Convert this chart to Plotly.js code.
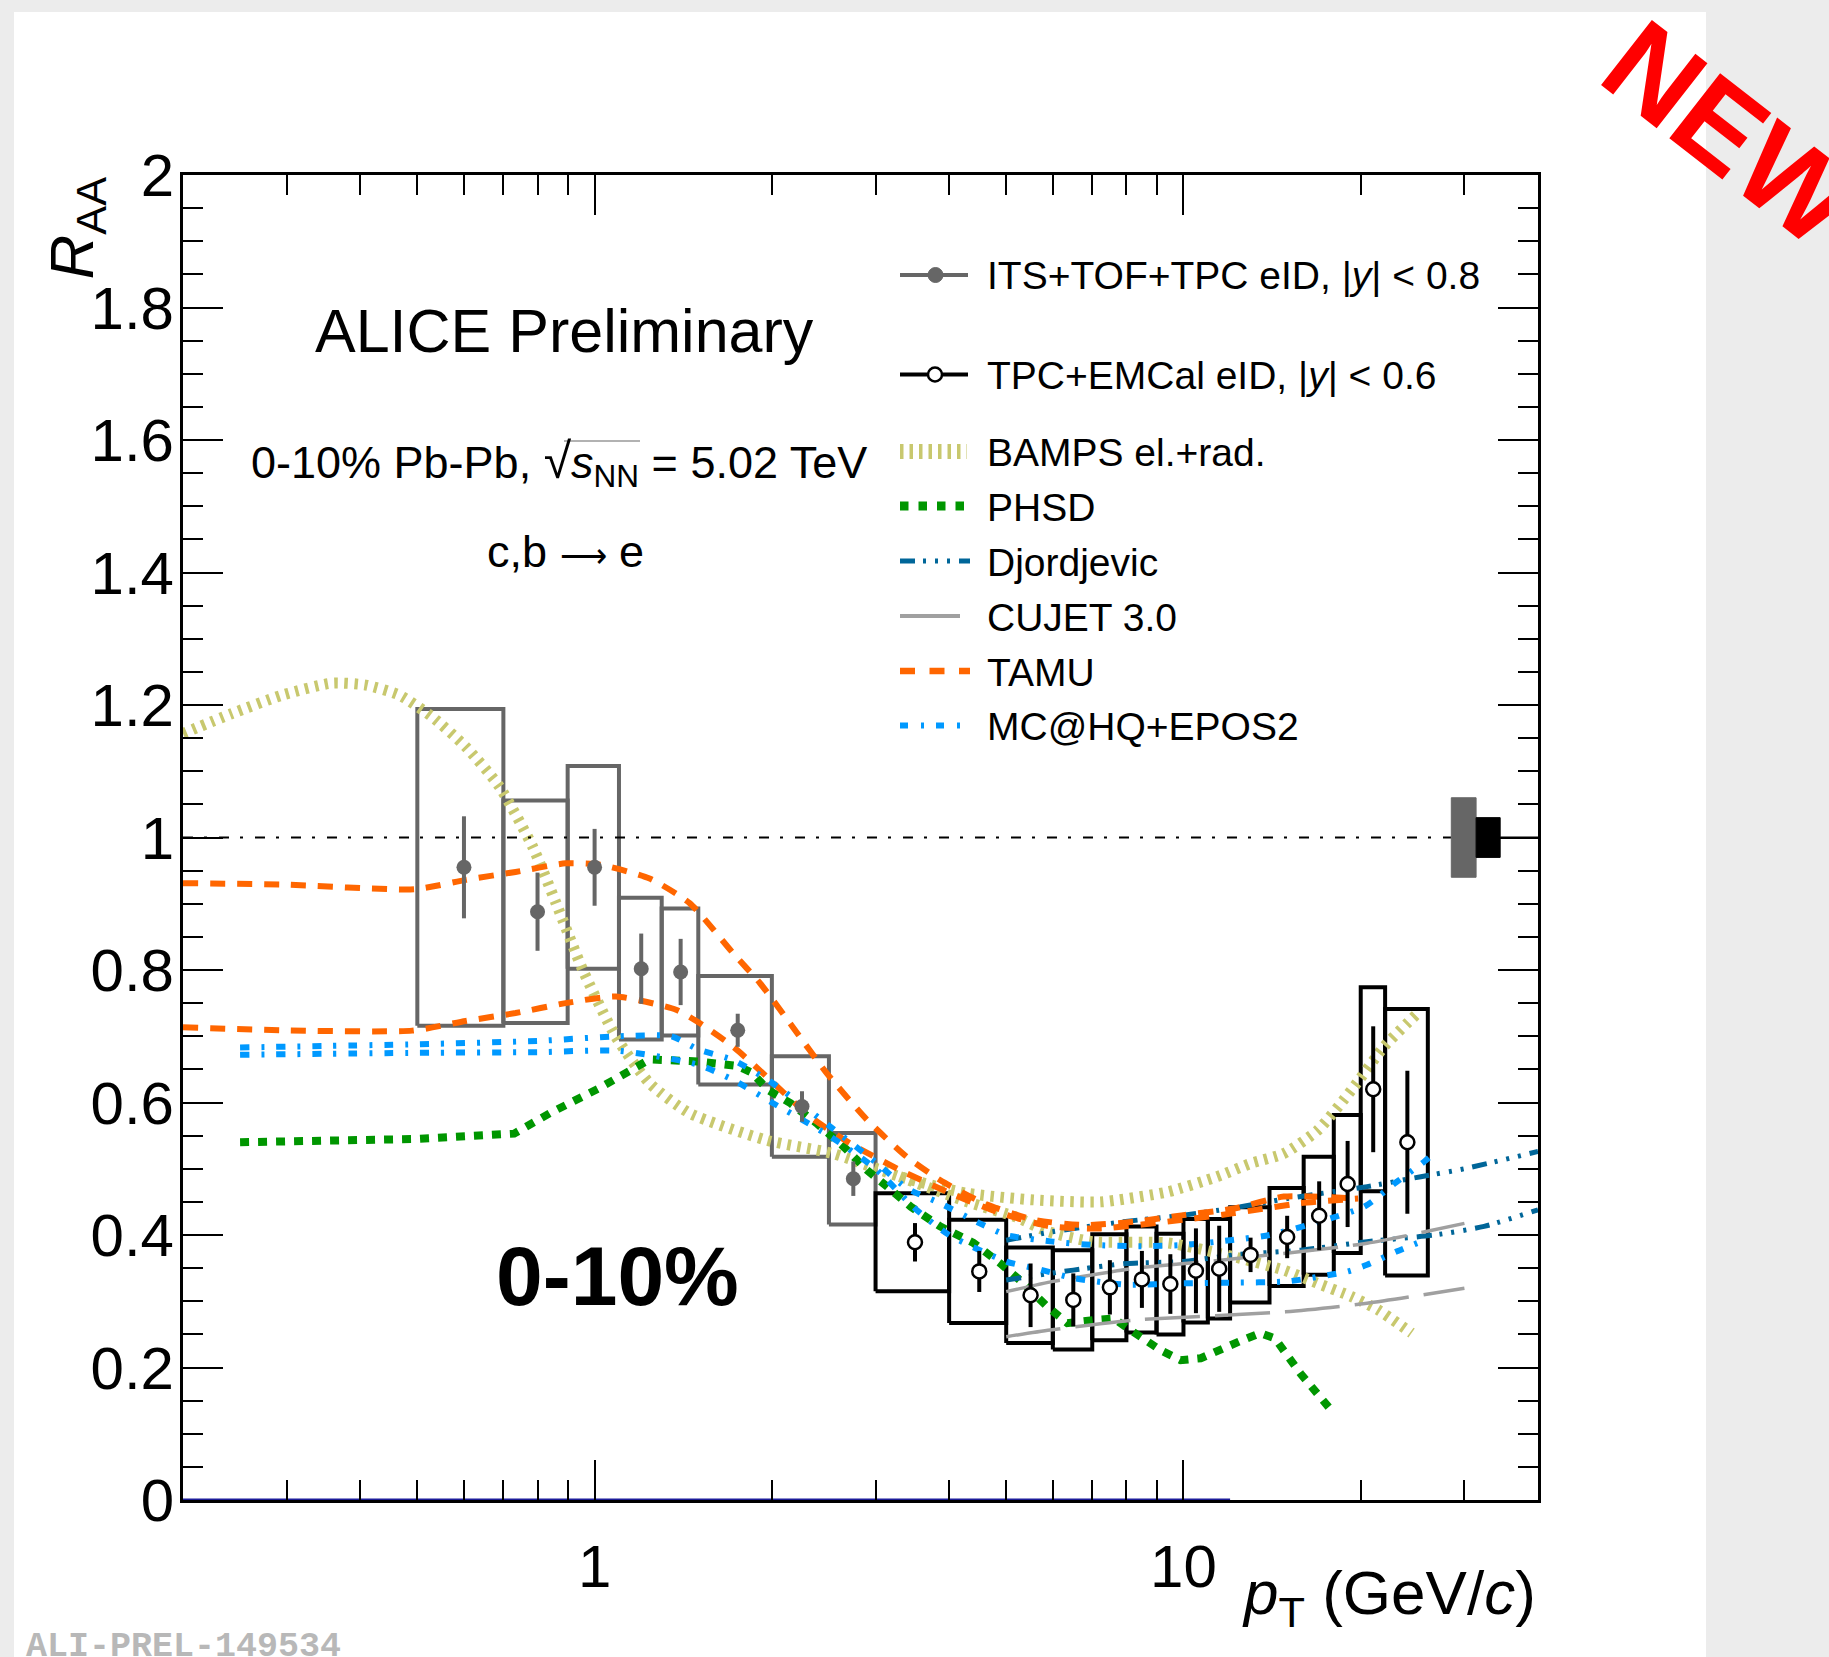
<!DOCTYPE html>
<html><head><meta charset="utf-8">
<script src="https://cdn.plot.ly/plotly-3.0.1.min.js"></script>
<style>html,body{margin:0;padding:0;background:#ececec;}#chart{width:1829px;height:1657px;}</style>
</head><body><div id="chart"></div>
<script>
// ---------------- DATA ----------------
// ITS+TOF+TPC eID, |y|<0.8
const ITS_LO  = [0.5, 0.7, 0.9, 1.1, 1.3, 1.5, 2.0, 2.5];
const ITS_HI  = [0.7, 0.9, 1.1, 1.3, 1.5, 2.0, 2.5, 3.0];
const ITS_PT  = [0.6, 0.8, 1.0, 1.2, 1.4, 1.75, 2.25, 2.75];
const ITS_R   = [0.955, 0.888, 0.955, 0.802, 0.797, 0.709, 0.594, 0.485];
const ITS_STAT= [0.077, 0.059, 0.058, 0.053, 0.050, 0.025, 0.023, 0.026];
const ITS_SYS = [0.239, 0.168, 0.153, 0.107, 0.096, 0.082, 0.076, 0.069];
// TPC+EMCal eID, |y|<0.6
const EMC_LO  = [3, 4, 5, 6, 7, 8, 9, 10, 11, 12, 14, 16, 18, 20, 22];
const EMC_HI  = [4, 5, 6, 7, 8, 9, 10, 11, 12, 14, 16, 18, 20, 22, 26];
const EMC_PT  = [3.5, 4.5, 5.5, 6.5, 7.5, 8.5, 9.5, 10.5, 11.5, 13, 15, 17, 19, 21, 24];
const EMC_R   = [0.389, 0.345, 0.309, 0.302, 0.321, 0.333, 0.326, 0.346, 0.349, 0.370, 0.397, 0.429, 0.477, 0.620, 0.540];
const EMC_STAT= [0.029, 0.031, 0.048, 0.040, 0.041, 0.043, 0.045, 0.064, 0.065, 0.026, 0.032, 0.052, 0.065, 0.095, 0.108];
const EMC_SYS = [0.074, 0.078, 0.072, 0.075, 0.080, 0.080, 0.076, 0.078, 0.075, 0.072, 0.074, 0.089, 0.104, 0.154, 0.201];
// normalisation uncertainties at R_AA = 1
const NORM_PT = [28.5, 31.4, 34.5];
const NORM_ERR = [0.06, 0.03];
// Models
const BAMPS_PT_UP = [0.2,0.242,0.295,0.358,0.409,0.466,0.53,0.604,0.689,0.785,0.86,0.955,1.087,1.24,1.45,1.96,2.54,3.3,4.29,5.57,7.23,9.39,11.4,13.0,14.8,16.9,19.3,21.9,25.0];
const BAMPS_UP    = [1.157,1.187,1.215,1.233,1.230,1.215,1.182,1.137,1.077,0.986,0.901,0.800,0.699,0.629,0.584,0.543,0.523,0.488,0.463,0.453,0.450,0.465,0.488,0.508,0.523,0.558,0.619,0.684,0.735];
const BAMPS_PT_LO = [3.3,4.3,5.2,5.9,7.0,9.4,12.2,14.8,16.9,19.3,21.4,24.4];
const BAMPS_LO    = [0.488,0.45,0.427,0.405,0.39,0.388,0.367,0.347,0.327,0.307,0.287,0.252];
const PHSD_PT = [0.25,0.5,0.73,0.84,1.02,1.24,1.5,1.75,1.85,1.97,2.15,2.38,2.65,2.90,3.14,3.44,3.86,4.40,4.89,5.35,5.87,6.35,7.14,7.62,8.05,9.15,9.89,10.7,12.5,13.5,14.3,15.8,17.8];
const PHSD_R  = [0.540,0.545,0.553,0.584,0.622,0.665,0.662,0.655,0.645,0.619,0.599,0.569,0.533,0.498,0.473,0.443,0.413,0.388,0.357,0.327,0.292,0.267,0.272,0.274,0.259,0.226,0.211,0.214,0.24,0.252,0.244,0.191,0.136];
const DJ_PT_UP = [5.0,6.0,7.9,10,12,15,20.5,25.3,30,40];
const DJ_UP    = [0.392,0.405,0.42,0.43,0.44,0.455,0.473,0.488,0.50,0.526];
const DJ_PT_LO = [5.0,6.5,8,10,12.2,15.8,20.5,26.7,32.4,40];
const DJ_LO    = [0.332,0.347,0.357,0.36,0.37,0.377,0.39,0.40,0.413,0.438];
const CUJET_PT_UP = [5.0,6.0,6.5,8.3,11.0,20.5,30];
const CUJET_UP    = [0.3145,0.33,0.335,0.35,0.36,0.3875,0.4176];
const CUJET_PT_LO = [5.0,5.94,8.3,14.9,20.5,30];
const CUJET_LO    = [0.2465,0.2566,0.2717,0.284,0.297,0.3195];
const TAMU_PT_UP = [0.2,0.295,0.496,0.604,0.734,0.893,1.02,1.24,1.45,1.72,1.91,2.17,2.48,2.90,3.39,3.86,4.58,5.57,6.77,8.24,10.0,12.2,14.8,19.8];
const TAMU_UP    = [0.931,0.929,0.922,0.936,0.948,0.961,0.959,0.938,0.901,0.825,0.78,0.714,0.644,0.574,0.518,0.483,0.448,0.423,0.415,0.42,0.43,0.44,0.458,0.455];
const TAMU_PT_LO = [0.2,0.295,0.49,0.604,0.734,0.893,1.087,1.375,1.51,1.72,1.96,2.32,2.72,3.30,4.02,4.89,5.94,7.23,10.0,12.2,15.8,19.8];
const TAMU_LO    = [0.7135,0.709,0.7085,0.723,0.735,0.750,0.760,0.740,0.7195,0.684,0.639,0.579,0.538,0.498,0.463,0.433,0.413,0.41,0.423,0.433,0.448,0.455];
const MCHQ_PT_UP = [0.25,0.5,0.8,1.1,1.35,1.5,1.72,2.0,2.5,3.0,3.4,3.86,4.5,5.0,6,7,8.5,10,12,14,17,20.3,23,25.4,27];
const MCHQ_UP    = [0.683,0.688,0.693,0.700,0.70,0.68,0.664,0.63,0.565,0.51,0.47,0.448,0.418,0.40,0.39,0.385,0.383,0.385,0.392,0.40,0.42,0.443,0.48,0.508,0.528];
const MCHQ_PT_LO = [0.25,0.5,0.8,1.1,1.5,1.72,2.0,2.5,3.0,3.5,4.0,5.0,5.7,6.5,8,10,12,15,19,20.5,23,25.3];
const MCHQ_LO    = [0.672,0.675,0.676,0.678,0.657,0.634,0.60,0.55,0.50,0.44,0.40,0.36,0.348,0.335,0.325,0.327,0.328,0.33,0.345,0.355,0.375,0.39];
// axis ticks
const X_MAJOR = [1, 10];
const X_MAJOR_TEXT = ['1', '10'];
const X_MINOR = [0.3,0.4,0.5,0.6,0.7,0.8,0.9,2,3,4,5,6,7,8,9,20,30];
const Y_MAJOR = [0,0.2,0.4,0.6,0.8,1,1.2,1.4,1.6,1.8,2];
const Y_MAJOR_TEXT = ['0','0.2','0.4','0.6','0.8','1','1.2','1.4','1.6','1.8','2'];
const X_RANGE = [0.2, 40];
const Y_RANGE = [0, 2];
const LEGEND_LABELS = ['ITS+TOF+TPC eID, |<i>y</i>| &lt; 0.8','TPC+EMCal eID, |<i>y</i>| &lt; 0.6','BAMPS el.+rad.','PHSD','Djordjevic','CUJET 3.0','TAMU','MC@HQ+EPOS2'];

// ---------------- STYLE / LAYOUT ----------------
const FONT = 'Liberation Sans, Arial, Helvetica, sans-serif';
const GRAY = '#666666';
const STY = {
  bamps: {color:'rgb(200,200,110)', width:11, dash:'3.5px,6.5px'},
  phsd:  {color:'rgb(0,150,0)', width:8, dash:'9px,9px'},
  dj:    {color:'rgb(0,102,153)', width:5, dash:'15px,8px,3px,9px,3px,9px,3px,9px'},
  cujet: {color:'#a0a0a0', width:3.5, dash:'55px,15px'},
  tamu:  {color:'rgb(255,102,0)', width:6, dash:'15px,12px'},
  mchq:  {color:'rgb(0,153,255)', width:6, dash:'9px,12px,3px,12px'}
};
const L=183, T=175, W=1355, H=1325;
const px = p => (p - L) / W;
const py = p => (T + H - p) / H;

function boxPath(lo, hi, y, s){
  const X=[], Y=[];
  for(let i=0;i<y.length;i++){
    X.push(lo[i],hi[i],hi[i],lo[i],lo[i],null);
    Y.push(y[i]-s[i],y[i]-s[i],y[i]+s[i],y[i]+s[i],y[i]-s[i],null);
  }
  return {X,Y};
}
const itsBox = boxPath(ITS_LO, ITS_HI, ITS_R, ITS_SYS);
const emcBox = boxPath(EMC_LO, EMC_HI, EMC_R, EMC_SYS);
const line = (x,y,s) => ({x, y, type:'scatter', mode:'lines', line:Object.assign({shape:'spline', smoothing:0.6}, s), showlegend:false, hoverinfo:'skip'});

const traces = [
  {x:itsBox.X, y:itsBox.Y, type:'scatter', mode:'lines', line:{color:GRAY, width:4}, showlegend:false, hoverinfo:'skip'},
  {x:emcBox.X, y:emcBox.Y, type:'scatter', mode:'lines', line:{color:'black', width:4}, showlegend:false, hoverinfo:'skip'},
  line(BAMPS_PT_UP, BAMPS_UP, STY.bamps),
  line(BAMPS_PT_LO, BAMPS_LO, STY.bamps),
  line(PHSD_PT, PHSD_R, Object.assign({}, STY.phsd, {shape:'linear'})),
  line(DJ_PT_UP, DJ_UP, STY.dj),
  line(DJ_PT_LO, DJ_LO, STY.dj),
  line(CUJET_PT_UP, CUJET_UP, STY.cujet),
  line(CUJET_PT_LO, CUJET_LO, STY.cujet),
  line(TAMU_PT_UP, TAMU_UP, STY.tamu),
  line(TAMU_PT_LO, TAMU_LO, STY.tamu),
  line(MCHQ_PT_UP, MCHQ_UP, STY.mchq),
  line(MCHQ_PT_LO, MCHQ_LO, STY.mchq),
  // unity reference line
  {x:[X_RANGE[0], NORM_PT[0]], y:[1,1], type:'scatter', mode:'lines', line:{color:'black', width:2, dash:'10px,11px,3px,12px'}, showlegend:false, hoverinfo:'skip'},
  {x:[NORM_PT[2], X_RANGE[1]], y:[1,1], type:'scatter', mode:'lines', line:{color:'black', width:2}, showlegend:false, hoverinfo:'skip'},
  // normalisation boxes
  {x:[NORM_PT[0],NORM_PT[1],NORM_PT[1],NORM_PT[0],NORM_PT[0]], y:[1-NORM_ERR[0],1-NORM_ERR[0],1+NORM_ERR[0],1+NORM_ERR[0],1-NORM_ERR[0]], type:'scatter', mode:'lines', fill:'toself', fillcolor:GRAY, line:{color:GRAY, width:1}, showlegend:false, hoverinfo:'skip'},
  {x:[NORM_PT[1],NORM_PT[2],NORM_PT[2],NORM_PT[1],NORM_PT[1]], y:[1-NORM_ERR[1],1-NORM_ERR[1],1+NORM_ERR[1],1+NORM_ERR[1],1-NORM_ERR[1]], type:'scatter', mode:'lines', fill:'toself', fillcolor:'black', line:{color:'black', width:1}, showlegend:false, hoverinfo:'skip'},
  // blue line along zero
  {x:[X_RANGE[0], 12], y:[0,0], type:'scatter', mode:'lines', line:{color:'#1c1c9a', width:3}, cliponaxis:false, showlegend:false, hoverinfo:'skip'},
  // data points
  {x:ITS_PT, y:ITS_R, type:'scatter', mode:'markers', marker:{size:15, color:GRAY}, error_y:{type:'data', array:ITS_STAT, visible:true, thickness:4, width:0, color:GRAY}, showlegend:false},
  {x:EMC_PT, y:EMC_R, type:'scatter', mode:'markers', marker:{size:14, color:'white', line:{color:'black', width:2.5}}, error_y:{type:'data', array:EMC_STAT, visible:true, thickness:4, width:0, color:'black'}, showlegend:false}
];

// manual legend
const legY = [275, 374.5, 451.5, 506, 561, 616, 671, 725.6];
const shapes = [
  {type:'rect', xref:'paper', yref:'paper', x0:px(14), x1:px(1706), y0:py(1700), y1:py(12), fillcolor:'white', line:{width:0}, layer:'below'},
  {type:'line', xref:'paper', yref:'paper', x0:px(900), x1:px(968), y0:py(legY[0]), y1:py(legY[0]), line:{color:GRAY, width:4}},
  {type:'circle', xref:'paper', yref:'paper', x0:px(928), x1:px(943), y0:py(legY[0]+7.5), y1:py(legY[0]-7.5), fillcolor:GRAY, line:{color:GRAY, width:1}},
  {type:'line', xref:'paper', yref:'paper', x0:px(900), x1:px(968), y0:py(legY[1]), y1:py(legY[1]), line:{color:'black', width:4}},
  {type:'circle', xref:'paper', yref:'paper', x0:px(928), x1:px(942), y0:py(legY[1]+7), y1:py(legY[1]-7), fillcolor:'white', line:{color:'black', width:2.5}},
  {type:'line', xref:'paper', yref:'paper', x0:px(900), x1:px(967), y0:py(legY[2]), y1:py(legY[2]), line:{color:STY.bamps.color, width:15, dash:'3.5px,6px'}},
  {type:'line', xref:'paper', yref:'paper', x0:px(900), x1:px(966), y0:py(legY[3]), y1:py(legY[3]), line:{color:STY.phsd.color, width:9, dash:'8.5px,10px'}},
  {type:'line', xref:'paper', yref:'paper', x0:px(900), x1:px(970), y0:py(legY[4]), y1:py(legY[4]), line:{color:STY.dj.color, width:5, dash:STY.dj.dash}},
  {type:'line', xref:'paper', yref:'paper', x0:px(900), x1:px(960), y0:py(legY[5]), y1:py(legY[5]), line:{color:STY.cujet.color, width:4}},
  {type:'line', xref:'paper', yref:'paper', x0:px(900), x1:px(970), y0:py(legY[6]), y1:py(legY[6]), line:{color:STY.tamu.color, width:6.5, dash:'15px,14.5px'}},
  {type:'line', xref:'paper', yref:'paper', x0:px(900), x1:px(962), y0:py(legY[7]), y1:py(legY[7]), line:{color:STY.mchq.color, width:6, dash:'8px,13px,3px,12px'}},
  // overline of the square root
  {type:'line', xref:'paper', yref:'paper', x0:px(564), x1:px(640), y0:py(441), y1:py(441), line:{color:'#999999', width:1.5}}
];

const ann = (text, x, y, opts) => Object.assign({text, xref:'paper', yref:'paper', x:px(x), y:py(y), showarrow:false, xanchor:'left', yanchor:'middle', font:{family:FONT, size:39, color:'black'}}, opts||{});
const annotations = [];
LEGEND_LABELS.forEach((t,i)=>annotations.push(ann(t, 985, legY[i]+1)));
annotations.push(ann('ALICE Preliminary', 313, 331, {font:{family:FONT, size:61, color:'black'}}));
annotations.push(ann('0-10% Pb-Pb, <span style="font-size:50px">√</span><i>s</i><sub>NN</sub> = 5.02 TeV', 249, 463, {font:{family:FONT, size:45, color:'black'}}));
annotations.push(ann('c,b <span style="font-size:33px">⟶</span> e', 485, 551, {font:{family:FONT, size:45, color:'black'}}));
annotations.push(ann('<b>0-10%</b>', 494, 1276, {font:{family:FONT, size:84, color:'black'}}));
annotations.push(ann('<i>R</i><sub>AA</sub>', 75, 175, {textangle:-90, xanchor:'center', yanchor:'top', font:{family:FONT, size:62, color:'black'}}));
annotations.push(ann('<i>p</i><sub>T</sub> (GeV/<i>c</i>)', 1538, 1597, {xanchor:'right', font:{family:FONT, size:62, color:'black'}}));
annotations.push(ann('<b>NEW</b>', 1731, 133, {xanchor:'center', textangle:38, font:{family:FONT, size:120, color:'#ff0000'}}));
annotations.push(ann('<b>ALI-PREL-149534</b>', 24, 1647, {font:{family:'Liberation Mono, Courier New, monospace', size:35, color:'#b8b8b8'}}));

const axisCommon = {showline:true, linecolor:'black', linewidth:3, mirror:'allticks', ticks:'inside', ticklen:40, tickwidth:2, tickcolor:'black', showgrid:false, zeroline:false};
const layout = {
  width:1829, height:1657,
  margin:{l:L, r:1829-L-W, t:T, b:1657-T-H, pad:0},
  paper_bgcolor:'#ececec', plot_bgcolor:'white',
  showlegend:false,
  xaxis:Object.assign({}, axisCommon, {type:'log', range:[Math.log10(X_RANGE[0]), Math.log10(X_RANGE[1])], tickmode:'array', tickvals:X_MAJOR, ticktext:X_MAJOR_TEXT, ticklabelstandoff:12,
    tickfont:{family:FONT, size:60, color:'black'},
    minor:{tickmode:'array', tickvals:X_MINOR, ticks:'inside', ticklen:20, tickwidth:2, tickcolor:'black', showgrid:false}}),
  yaxis:Object.assign({}, axisCommon, {range:Y_RANGE, tickmode:'array', tickvals:Y_MAJOR, ticktext:Y_MAJOR_TEXT, ticklabelstandoff:-6,
    tickfont:{family:FONT, size:60, color:'black'},
    minor:{dtick:0.05, ticks:'inside', ticklen:20, tickwidth:2, tickcolor:'black', showgrid:false}}),
  shapes, annotations
};
Plotly.newPlot('chart', traces, layout, {staticPlot:true});
</script></body></html>
